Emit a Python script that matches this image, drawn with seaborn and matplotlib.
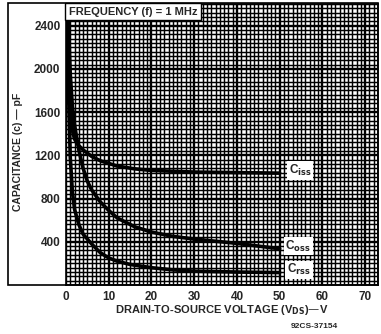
import numpy as np
import pandas as pd
import matplotlib
matplotlib.use('Agg')
import matplotlib.pyplot as plt
import seaborn as sns
from matplotlib.patches import Rectangle
from matplotlib.ticker import MultipleLocator

# Data (V_DS in volts, capacitance in pF)
ciss_v = [0.3, 0.6, 1.0, 1.5, 2, 3, 4, 6, 8, 12, 16, 20, 30, 40, 50]
ciss_c = [2600, 1950, 1600, 1430, 1350, 1290, 1250, 1190, 1150, 1100, 1075, 1060, 1045, 1040, 1035]

coss_v = [0.5, 0.8, 1.0, 1.5, 2, 3, 4, 5, 6, 8, 10, 12, 16, 20, 25, 30, 40, 50]
coss_c = [2600, 2150, 1950, 1650, 1480, 1250, 1080, 960, 880, 770, 690, 620, 540, 490, 450, 425, 385, 335]

crss_v = [0.3, 0.5, 0.7, 1.0, 1.5, 2, 3, 4, 6, 8, 10, 12, 15, 20, 25, 30, 40, 50]
crss_c = [2600, 2000, 1600, 1180, 860, 700, 560, 470, 380, 300, 250, 220, 190, 160, 140, 128, 120, 115]

curve_names = ['C$_{\\bf iss}$', 'C$_{\\bf oss}$', 'C$_{\\bf rss}$']
label_y = [1035, 335, 115]

x_ticks = [0, 10, 20, 30, 40, 50, 60, 70]
y_ticks = [400, 800, 1200, 1600, 2000, 2400]

sns.set_theme(style='white')
plt.rcParams['font.family'] = ['Liberation Sans', 'DejaVu Sans']
plt.rcParams['font.weight'] = 'bold'
plt.rcParams['mathtext.default'] = 'bf'

fig = plt.figure(figsize=(3.81, 3.34), dpi=100)
ax = fig.add_axes([66 / 381, 1 - 285 / 334, (378 - 66) / 381, (285 - 4) / 334])

# graph paper grid
ax.set_xlim(0, 73)
ax.set_ylim(0, 2600)
ax.xaxis.set_minor_locator(MultipleLocator(1))
ax.yaxis.set_minor_locator(MultipleLocator(40))
ax.set_xticks(x_ticks)
ax.set_yticks(y_ticks)
ax.grid(which='minor', color='black', linewidth=1.05)
ax.grid(which='major', color='black', linewidth=1.7)
ax.set_axisbelow(True)
ax.tick_params(which='both', length=0, labelsize=8.5, pad=4)

for v, c in [(ciss_v, ciss_c), (coss_v, coss_c), (crss_v, crss_c)]:
    sns.lineplot(x=v, y=c, ax=ax, color='black', linewidth=2.6, zorder=3)

lab_x = [54.8, 54.3, 54.5]
for name, x, y in zip(curve_names, lab_x, label_y):
    ax.text(x, y + 25, name, fontsize=8.5, fontweight='bold', ha='center', va='center',
            bbox=dict(facecolor='white', edgecolor='none', pad=1.2), zorder=5)

ax.text(0.6, 2575, 'FREQUENCY (f) = 1 MHz', fontsize=8, fontweight='bold', va='top', ha='left',
        bbox=dict(facecolor='white', edgecolor='black', linewidth=1.0, pad=2.5), zorder=5)

for s in ax.spines.values():
    s.set_color('black')
    s.set_linewidth(1.2)

ax.set_xlabel('DRAIN-TO-SOURCE VOLTAGE (V$_{\\bf DS}$)\u2014V', fontsize=8, fontweight='bold', labelpad=0)
fig.text(18 / 381, 1 - 152 / 334, 'CAPACITANCE (c) \u2014 pF', rotation=90, fontsize=7.5,
         fontweight='bold', ha='center', va='center')

# outer frame around the y-label area
fig.add_artist(Rectangle((8 / 381, 1 - 285 / 334), (378 - 8) / 381, (285 - 3) / 334,
                         transform=fig.transFigure, fill=False, edgecolor='black', linewidth=1.2))

fig.text(314 / 381, 1 - 326 / 334, '92CS-37154', fontsize=6, ha='center', va='center')

fig.savefig('out.png', dpi=100)
